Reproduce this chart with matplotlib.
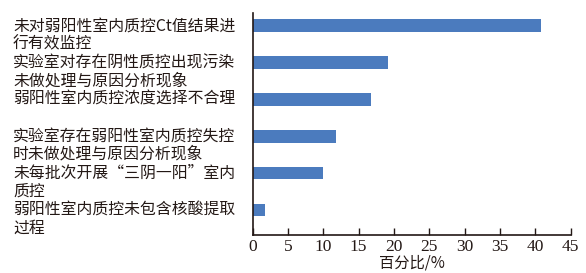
import matplotlib
matplotlib.use('Agg')
import matplotlib.pyplot as plt
from matplotlib import transforms

labels = [
    '未对弱阳性室内质控Ct值结果进\n行有效监控',
    '实验室对存在阴性质控出现污染\n未做处理与原因分析现象',
    '弱阳性室内质控浓度选择不合理',
    '实验室存在弱阳性室内质控失控\n时未做处理与原因分析现象',
    '未每批次开展“三阴一阳”室内\n质控',
    '弱阳性室内质控未包含核酸提取\n过程',
]
values = [40.8, 19.2, 16.7, 11.8, 10.0, 1.7]
xticks = [0, 5, 10, 15, 20, 25, 30, 35, 40, 45]

ink = '#231815'
bar_color = '#4b7bbe'
cjk = ['Noto Sans CJK SC', 'DejaVu Sans']

fig = plt.figure(figsize=(5.86, 2.73), dpi=100)
ax = fig.add_axes([0.431, 0.139, 0.543, 0.814])

ypos = list(range(len(values)))
ax.barh(ypos, values, height=0.345, color=bar_color)
ax.set_ylim(5.68, -0.35)
ax.set_xlim(0, 45)

ax.set_xticks(xticks)
ax.set_xticklabels([str(t) for t in xticks], family='Liberation Serif',
                   fontsize=12.5, color=ink)
ax.tick_params(axis='x', direction='in', length=5, width=1, color=ink, pad=2.5)
ax.set_yticks([])
for s in ['top', 'right']:
    ax.spines[s].set_visible(False)
for s in ['left', 'bottom']:
    ax.spines[s].set_color(ink)
    ax.spines[s].set_linewidth(1.2)

ax.set_xlabel('百分比/%', family=cjk, fontsize=11, color=ink, labelpad=0)

# category labels, left aligned in figure coords
trans = transforms.blended_transform_factory(fig.transFigure, ax.transData)
for i, lab in enumerate(labels):
    for k, line in enumerate(lab.split('\n')):
        t = transforms.offset_copy(trans, fig=fig, x=0, y=-k * 18 * 72 / 100,
                                   units='points')
        ax.text(13 / 586, i, line, transform=t, ha='left', va='center',
                family=cjk, fontsize=11.4, color=ink)

fig.savefig('out.png', dpi=100)
